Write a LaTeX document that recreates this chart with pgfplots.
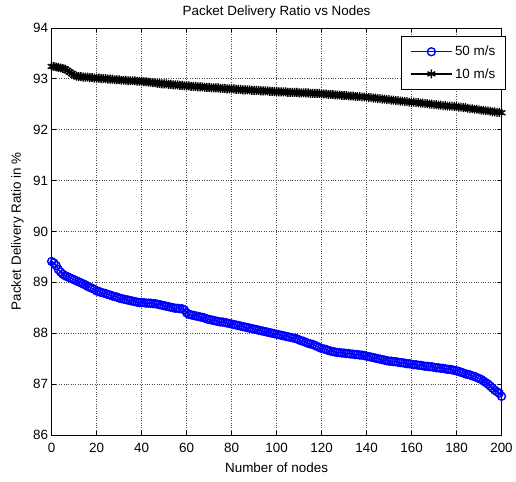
\documentclass[border=0pt]{standalone}
\usepackage{fontspec}
\setmainfont{Liberation Sans}
\usepackage{pgfplots}
\usepackage{pgfplotstable}
\pgfplotsset{compat=1.18}
\pgfplotstableread{
x blue black
0 89.41 93.24
1 89.38 93.24
2 89.33 93.23
3 89.25 93.22
4 89.20 93.21
5 89.16 93.20
6 89.13 93.19
7 89.11 93.16
8 89.09 93.13
9 89.07 93.10
10 89.05 93.07
11 89.03 93.05
12 89.01 93.04
13 88.99 93.04
14 88.97 93.03
15 88.95 93.03
16 88.92 93.03
17 88.90 93.02
18 88.88 93.02
19 88.86 93.01
20 88.83 93.01
21 88.82 93.01
22 88.80 93.00
23 88.79 93.00
24 88.78 93.00
25 88.76 92.99
26 88.75 92.99
27 88.73 92.99
28 88.72 92.98
29 88.71 92.98
30 88.69 92.98
31 88.68 92.97
32 88.67 92.97
33 88.66 92.97
34 88.65 92.96
35 88.64 92.96
36 88.63 92.96
37 88.62 92.96
38 88.61 92.95
39 88.60 92.95
40 88.60 92.95
41 88.60 92.94
42 88.59 92.94
43 88.59 92.93
44 88.59 92.93
45 88.58 92.92
46 88.58 92.92
47 88.57 92.91
48 88.56 92.91
49 88.55 92.90
50 88.54 92.90
51 88.53 92.90
52 88.52 92.89
53 88.51 92.89
54 88.50 92.88
55 88.49 92.88
56 88.49 92.88
57 88.48 92.87
58 88.48 92.87
59 88.46 92.86
60 88.40 92.86
61 88.37 92.86
62 88.36 92.85
63 88.35 92.85
64 88.34 92.85
65 88.33 92.84
66 88.32 92.84
67 88.31 92.84
68 88.30 92.83
69 88.28 92.83
70 88.27 92.83
71 88.26 92.82
72 88.25 92.82
73 88.24 92.82
74 88.23 92.82
75 88.22 92.81
76 88.22 92.81
77 88.21 92.81
78 88.20 92.80
79 88.19 92.80
80 88.18 92.80
81 88.17 92.80
82 88.16 92.79
83 88.15 92.79
84 88.14 92.79
85 88.13 92.78
86 88.12 92.78
87 88.11 92.78
88 88.10 92.78
89 88.09 92.77
90 88.08 92.77
91 88.07 92.77
92 88.06 92.77
93 88.05 92.76
94 88.04 92.76
95 88.03 92.76
96 88.02 92.76
97 88.01 92.75
98 88.00 92.75
99 87.99 92.75
100 87.98 92.75
101 87.97 92.74
102 87.96 92.74
103 87.95 92.74
104 87.94 92.74
105 87.93 92.73
106 87.92 92.73
107 87.91 92.73
108 87.90 92.73
109 87.89 92.73
110 87.87 92.72
111 87.85 92.72
112 87.84 92.72
113 87.82 92.72
114 87.80 92.72
115 87.79 92.71
116 87.78 92.71
117 87.76 92.71
118 87.74 92.71
119 87.72 92.71
120 87.70 92.70
121 87.69 92.70
122 87.68 92.70
123 87.66 92.69
124 87.65 92.69
125 87.64 92.69
126 87.63 92.68
127 87.62 92.68
128 87.62 92.68
129 87.61 92.67
130 87.61 92.67
131 87.60 92.67
132 87.60 92.66
133 87.59 92.66
134 87.59 92.66
135 87.58 92.65
136 87.58 92.65
137 87.57 92.65
138 87.57 92.64
139 87.56 92.64
140 87.55 92.64
141 87.54 92.63
142 87.53 92.63
143 87.52 92.62
144 87.51 92.62
145 87.50 92.61
146 87.49 92.61
147 87.48 92.60
148 87.47 92.60
149 87.46 92.59
150 87.45 92.59
151 87.45 92.58
152 87.44 92.58
153 87.44 92.57
154 87.43 92.57
155 87.42 92.56
156 87.42 92.56
157 87.41 92.55
158 87.40 92.55
159 87.40 92.54
160 87.39 92.54
161 87.38 92.54
162 87.38 92.53
163 87.37 92.53
164 87.37 92.52
165 87.36 92.52
166 87.35 92.51
167 87.35 92.51
168 87.34 92.50
169 87.34 92.50
170 87.33 92.49
171 87.32 92.49
172 87.32 92.48
173 87.31 92.48
174 87.31 92.47
175 87.30 92.47
176 87.29 92.46
177 87.29 92.46
178 87.28 92.46
179 87.27 92.45
180 87.26 92.45
181 87.25 92.44
182 87.23 92.44
183 87.22 92.43
184 87.20 92.43
185 87.19 92.42
186 87.18 92.41
187 87.16 92.41
188 87.15 92.40
189 87.13 92.40
190 87.11 92.39
191 87.09 92.38
192 87.06 92.38
193 87.03 92.37
194 87.00 92.37
195 86.96 92.36
196 86.92 92.35
197 86.88 92.35
198 86.85 92.34
199 86.82 92.34
200 86.76 92.33
}\datatable
\begin{document}
\begin{tikzpicture}
\begin{axis}[
  name=ax,
  scale only axis,
  width=453pt, height=410pt,
  xmin=0, xmax=200, ymin=86, ymax=94,
  xtick={0,20,...,200}, ytick={86,87,...,94},
  tick align=inside,
  major tick length=4pt,
  tick style={black, line width=0.5pt},
  axis line style={black, line width=0.6pt},
  grid=major,
  grid style={dotted, black!70, line width=0.6pt},
  font=\fontsize{13.5}{15}\selectfont,
  /pgf/number format/assume math mode=true,
  xticklabel style={yshift=-5pt},
  title={Packet Delivery Ratio vs Nodes},
  title style={at={(axis description cs:0.5,1)}, anchor=south, inner sep=0pt, yshift=3pt},
  xlabel={Number of nodes},
  xlabel style={at={(axis description cs:0.5,0)}, anchor=north, inner sep=0pt, yshift=-28pt},
  ylabel={Packet Delivery Ratio in \%},
  ylabel style={at={(axis description cs:0,0.5)}, anchor=south, inner sep=0pt, yshift=28pt},
  legend style={at={(rel axis cs:1,0.98)}, anchor=north east, xshift=4pt, draw=black, fill=white,
     line width=0.6pt, font=\fontsize{13.5}{15}\selectfont, row sep=7pt, inner xsep=8pt, inner ysep=8pt},
  legend cell align=left,
  legend image code/.code={\draw[mark repeat=2,mark phase=2] plot coordinates {(0pt,0pt) (21pt,0pt) (42pt,0pt)};},
]
\addplot[blue, line width=1.4pt, mark=o, mark size=4pt, mark options={line width=1.4pt}] table[x=x, y=blue] {\datatable};
\addlegendentry{50 m/s}
\addplot[black, line width=1.6pt, mark=asterisk, mark size=4.5pt, mark options={line width=1.4pt}] table[x=x, y=black] {\datatable};
\addlegendentry{10 m/s}
\end{axis}
\path (ax.south west) ++(-52pt,-47pt) coordinate (bbA);
\path (ax.north east) ++(11pt,28pt) coordinate (bbB);
\path (bbA) rectangle (bbB);
\end{tikzpicture}
\end{document}
